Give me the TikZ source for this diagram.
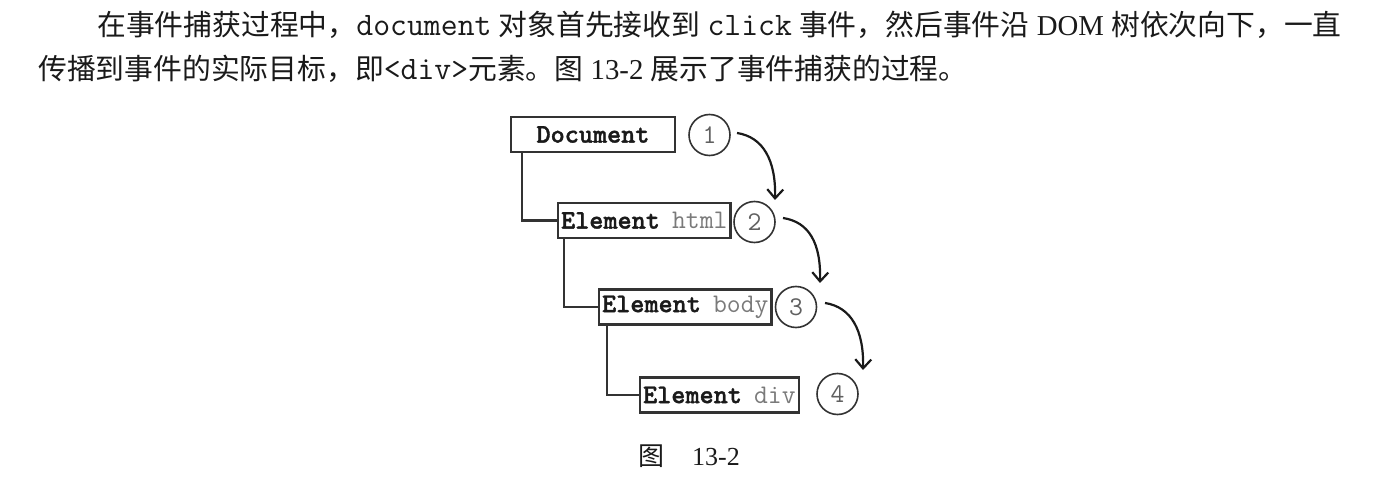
\documentclass[tikz,border=0pt]{standalone}
\usepackage{fontspec}
\setmainfont{Liberation Serif}
\newfontfamily\cjk{Noto Sans CJK SC}
\newfontfamily\boldtt{lmmonolt10-bold.otf}[FakeBold=1.3]
\usetikzlibrary{arrows.meta}
\definecolor{ink}{HTML}{1A1A1A}
\definecolor{boxline}{HTML}{333333}
\definecolor{soft}{HTML}{7A7A7A}
\definecolor{numgray}{HTML}{606060}
\tikzset{
  para/.style={anchor=base west, inner sep=0, text=ink, font=\fontsize{28.8}{34}\selectfont},
  domboxA/.style={draw=boxline, line width=2.2pt, inner xsep=3pt, inner ysep=0pt, minimum height=35pt, text=ink, font=\ttfamily\fontsize{26.9}{28}\selectfont},
  numcirc/.style={draw=boxline, line width=1.6pt, circle, minimum size=41pt, inner sep=0pt, text=numgray, font=\ttfamily\fontsize{27}{28}\selectfont},
  treeline/.style={draw=boxline, line width=2.2pt},
  flow/.style={draw=ink, line width=2.2pt, -{Straight Barb[length=9pt,width=16pt]}},
  caption/.style={anchor=base west, inner sep=0, text=ink, font=\fontsize{26}{30}\selectfont}
}
\newcommand{\mytt}[1]{{\ttfamily\fontsize{32.8}{34}\selectfont #1}}
\newcommand{\heavy}[1]{{\boldtt #1}}
\begin{document}
\begin{tikzpicture}[x=1pt,y=-1pt]
\path[fill=white] (0,0) rectangle (1386,494);
\useasboundingbox (0,0) rectangle (1386,494);

\node[para] (line1) at (97,36) {{\cjk 在事件捕获过程中，}\mytt{document}\ {\cjk 对象首先接收到}\ \mytt{click}\ {\cjk 事件，然后事件沿}\ DOM\ {\cjk 树依次向下，一直}};
\node[para] (line2) at (38,80) {{\cjk 传播到事件的实际目标，即}\mytt{<div>}{\cjk 元素。图}\ 13-2\ {\cjk 展示了事件捕获的过程。}};

\node[domboxA, minimum width=164pt] (doc) at (593,134.5) {\heavy{Document}};
\node[domboxA, anchor=west] (html) at (557,220.5) {\heavy{Element}\hspace{0.45em}{\color{soft}html}};
\node[domboxA, anchor=west] (body) at (598,307) {\heavy{Element}\hspace{0.45em}{\color{soft}body}};
\node[domboxA, anchor=west] (div) at (639,395) {\heavy{Element}\hspace{0.45em}{\color{soft}div}};

\node[numcirc] (c1) at (709.5,135) {1};
\node[numcirc] (c2) at (754.5,222) {2};
\node[numcirc] (c3) at (796,307) {3};
\node[numcirc] (c4) at (837.5,394) {4};

\draw[treeline] ([xshift=12pt]doc.south west) |- (html.west);
\draw[treeline] ([xshift=7pt]html.south west) |- (body.west);
\draw[treeline] ([xshift=9pt]body.south west) |- (div.west);

\draw[flow] ([xshift=27.5pt,yshift=2pt]c1.center) .. controls +(26,4) and +(1,-40) .. ([xshift=20.5pt,yshift=22pt]c2.center);
\draw[flow] ([xshift=28.5pt,yshift=4pt]c2.center) .. controls +(26,4) and +(1,-40) .. ([xshift=24pt,yshift=24pt]c3.center);
\draw[flow] ([xshift=29pt,yshift=4pt]c3.center) .. controls +(26,4) and +(1,-40) .. ([xshift=25.5pt,yshift=24pt]c4.center);

\node[caption] (cap) at (638,465) {{\cjk 图}\hspace{28pt}13-2};
\end{tikzpicture}
\end{document}
